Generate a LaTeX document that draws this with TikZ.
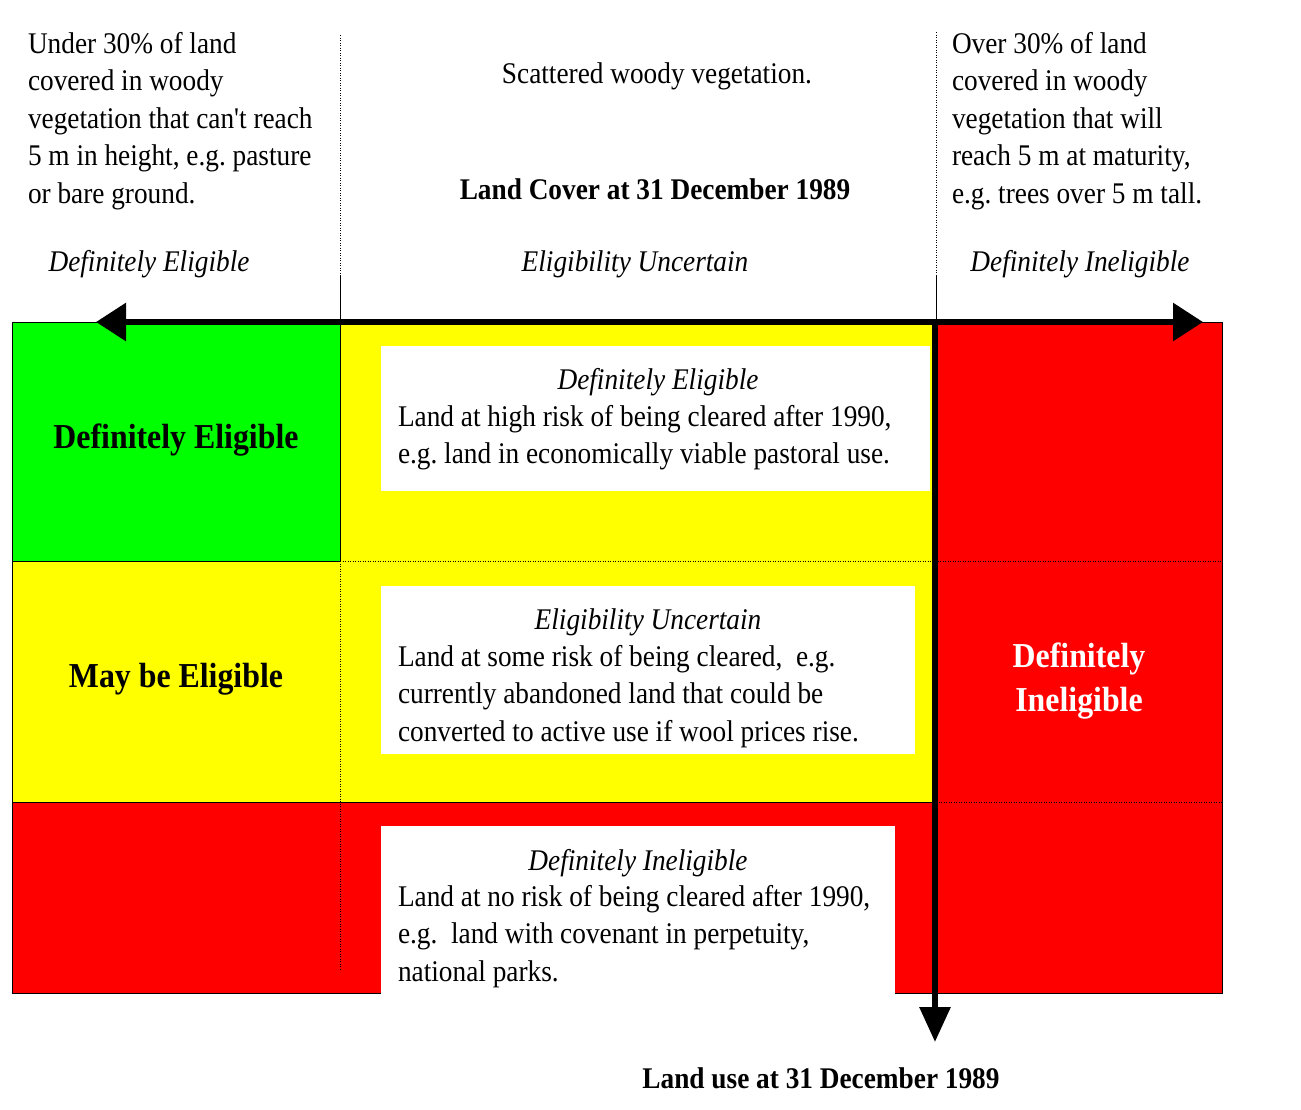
\documentclass[tikz,border=0pt]{standalone}
\usepackage{fontspec}
\setmainfont{Liberation Serif}[FakeStretch=0.91, Ligatures=TeXOff]
\usetikzlibrary{arrows.meta}
\definecolor{cgreen}{RGB}{0,255,0}
\definecolor{cyellow}{RGB}{255,255,0}
\definecolor{cred}{RGB}{255,0,0}
\newcommand\Rnorm{\fontsize{30}{37.5}\selectfont}
\newcommand\Rbig{\fontsize{35}{44}\selectfont\bfseries}
\newcommand\Rhead{\fontsize{30}{37.5}\selectfont\bfseries}
\newcommand\Rstrut{\rule{0pt}{22pt}}
\begin{document}
\begin{tikzpicture}[x=1pt,y=-1pt,
  txt/.style={inner sep=0pt, outer sep=0pt, font=\Rnorm},
  para/.style={txt, anchor=north west, align=left},
  lbl/.style={txt, anchor=base},
  ital/.style={lbl, font=\Rnorm\itshape},
  wbox/.style={fill=white, draw=none, inner sep=0pt, anchor=north west},
  thin/.style={line width=1pt, draw=black},
  dots/.style={line width=1pt, dash pattern=on 1pt off 1.5pt},
  bigarrow/.style={line width=6pt, draw=black}
]
\useasboundingbox (0,0) rectangle (1301,1109);

% colour fields
\fill[cyellow] (340,322) rectangle (936,802);
\fill[cyellow] (12,561) rectangle (340,802);
\fill[cgreen] (12,322) rectangle (340,561);
\fill[cred] (936,322) rectangle (1222,993);
\fill[cred] (12,802) rectangle (936,993);

% borders
\draw[thin] (12,322) rectangle (1222,993);
\draw[thin] (12,322) rectangle (340,561);
\draw[thin] (12,802) -- (936,802);

% dotted internal lines
\draw[dots] (340,561) -- (1222,561);
\draw[dots] (340,561) -- (340,970);
\draw[dots] (936,802) -- (1222,802);

% top dividers
\draw[dots] (340,35) -- (340,275);
\draw[line width=1pt] (340,275) -- (340,322);
\draw[dots] (936,32) -- (936,275);
\draw[line width=1pt] (936,275) -- (936,322);

% white text boxes
\node[wbox, minimum width=549pt, minimum height=145pt] (b1) at (381,346) {};
\node[wbox, minimum width=534pt, minimum height=168pt] (b2) at (381,586) {};
\node[wbox, minimum width=514pt, minimum height=170pt] (b3) at (381,826) {};

% arrows
\coordinate (hl) at (96,322);
\coordinate (hr) at (1203,322);
\coordinate (vt) at (935,319);
\coordinate (vb) at (935,1042);
\draw[bigarrow, {Triangle[length=30pt,width=37pt]}-{Triangle[length=30pt,width=37pt]}] (hl) -- (hr);
\draw[bigarrow, -{Triangle[length=35pt,width=30pt]}] (vt) -- (vb);

% top texts
\node[para] (tl) at (28,31) {\Rstrut Under 30\% of land\\covered in woody\\vegetation that can't reach\\5 m in height, e.g.\ pasture\\or bare ground.};
\node[para] (tr) at (952,31) {\Rstrut Over 30\% of land\\covered in woody\\vegetation that will\\reach 5 m at maturity,\\e.g.\ trees over 5 m tall.};
\node[lbl] (sc) at (657,83) {Scattered woody vegetation.};
\node[lbl, font=\Rhead] (lc) at (655,199) {Land Cover at 31 December 1989};
\node[ital] (tde) at (149,271) {Definitely Eligible};
\node[ital] (teu) at (635,271) {Eligibility Uncertain};
\node[ital] (tdi) at (1080,271) {Definitely Ineligible};

% category labels
\node[lbl, font=\Rbig] (gde) at (176,448) {Definitely Eligible};
\node[lbl, font=\Rbig] (ymb) at (176,687) {May be Eligible};
\node[txt, anchor=north, align=center, font=\Rbig, text=white] (rdi) at (1079,641) {\rule{0pt}{26pt}Definitely\\Ineligible};

% box texts
\node[ital] (b1h) at (658,389) {Definitely Eligible};
\node[para] (b1t) at (398,404) {\Rstrut Land at high risk of being cleared after 1990,\\e.g.\ land in economically viable pastoral use.};
\node[ital] (b2h) at (648,629) {Eligibility Uncertain};
\node[para] (b2t) at (398,644) {\Rstrut Land at some risk of being cleared,\ \ e.g.\\currently abandoned land that could be\\converted to active use if wool prices rise.};
\node[ital] (b3h) at (638,870) {Definitely Ineligible};
\node[para] (b3t) at (398,884) {\Rstrut Land at no risk of being cleared after 1990,\\e.g.\ \ land with covenant in perpetuity,\\national parks.};

% bottom label
\node[lbl, font=\Rhead] (lu) at (821,1088) {Land use at 31 December 1989};
\end{tikzpicture}
\end{document}
